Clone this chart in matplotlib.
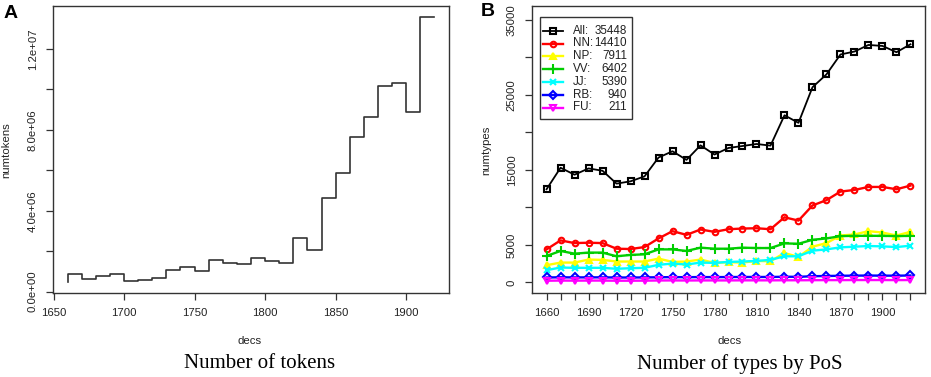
import matplotlib
matplotlib.use("Agg")
import matplotlib.pyplot as plt
from matplotlib.lines import Line2D
from matplotlib.patches import Rectangle

plt.rcParams['font.family'] = ['Liberation Sans', 'DejaVu Sans']

# decades 1660..1920
decs = [1660, 1670, 1680, 1690, 1700, 1710, 1720, 1730, 1740, 1750, 1760, 1770, 1780, 1790,
        1800, 1810, 1820, 1830, 1840, 1850, 1860, 1870, 1880, 1890, 1900, 1910, 1920]

# panel A: tokens per decade
numtokens = [0.46e6, 0.87e6, 0.61e6, 0.77e6, 0.86e6, 0.51e6, 0.59e6, 0.67e6, 1.05e6, 1.23e6,
             1.02e6, 1.56e6, 1.40e6, 1.35e6, 1.65e6, 1.51e6, 1.43e6, 2.67e6, 2.06e6, 4.64e6,
             5.89e6, 7.67e6, 8.63e6, 10.19e6, 10.34e6, 8.91e6, 13.61e6]

# panel B: types per PoS
types_all = [12420, 15290, 14360, 15200, 14890, 13170, 13480, 14140, 16650, 17490, 16340, 18280,
             17050, 17930, 18190, 18460, 18240, 22290, 21280, 26030, 27750, 30400, 30790, 31670,
             31540, 30700, 31760]
types_nn = [4400, 5600, 5240, 5290, 5240, 4490, 4450, 4710, 5860, 6830, 6340, 7050, 6740, 7090,
            7180, 7220, 7090, 8680, 8240, 10260, 10970, 12110, 12330, 12730, 12730, 12420, 12910]
types_np = [2290, 2640, 2640, 3040, 3000, 2780, 2780, 2780, 3170, 2730, 2780, 3040, 2600, 2690,
            2640, 2860, 2820, 3920, 3390, 4760, 5240, 6250, 6390, 6830, 6650, 6250, 6740]
types_vv = [3520, 4190, 3830, 3970, 3970, 3480, 3660, 3740, 4400, 4400, 4190, 4630, 4490, 4490,
            4630, 4580, 4580, 5200, 5150, 5680, 5860, 6170, 6210, 6210, 6210, 6170, 6210]
types_jj = [1630, 1980, 1940, 1940, 1940, 1810, 1890, 1940, 2340, 2510, 2380, 2640, 2600, 2730,
            2780, 2860, 3000, 3480, 3480, 4230, 4400, 4670, 4760, 4850, 4800, 4710, 4890]
types_rb = [650, 680, 660, 670, 670, 650, 650, 660, 680, 700, 690, 710, 700, 710, 720, 720, 720,
            750, 740, 820, 850, 880, 900, 910, 900, 890, 920]
types_fu = [220, 240, 230, 240, 240, 220, 220, 230, 250, 260, 250, 260, 260, 260, 270, 270, 270,
            280, 280, 290, 300, 300, 310, 310, 310, 300, 310]

pos_names = ["All:", "NN:", "NP:", "VV:", "JJ:", "RB:", "FU:"]
pos_totals = ["35448", "14410", "7911", "6402", "5390", "940", "211"]

fig = plt.figure(figsize=(9.31, 3.77), dpi=100)
W, H = 931.0, 377.0

def px_axes(x0, x1, y0, y1):
    return fig.add_axes([x0 / W, 1 - y1 / H, (x1 - x0) / W, (y1 - y0) / H])

def r_style(ax):
    for s in ax.spines.values():
        s.set_color('#333333')
        s.set_linewidth(1.0)
    ax.tick_params(direction='out', length=5, width=0.9, color='#333333',
                   labelsize=8.2, labelcolor='#222222', pad=6)

# ---- panel A
axA = px_axes(53, 449, 6, 293)
axA.plot(decs, numtokens, drawstyle='steps-pre', color='#333333', lw=1.2)
axA.set_xlim(1649.6, 1930.4)
axA.set_ylim(-0.07e6, 14.13e6)
axA.set_xticks([1650, 1700, 1750, 1800, 1850, 1900])
axA.set_yticks([0, 2e6, 4e6, 6e6, 8e6, 10e6, 12e6])
axA.set_yticklabels(["0.0e+00", "", "4.0e+06", "", "8.0e+06", "", "1.2e+07"],
                    rotation=90, va='center')
r_style(axA)
fig.text(6 / W, 1 - 150 / H, "numtokens", rotation=90, ha='center', va='center',
         fontsize=8.2, color='#222222')
fig.text(250 / W, 1 - 341 / H, "decs", ha='center', va='center', fontsize=8.2, color='#222222')
fig.text(260 / W, 1 - 364 / H, "Number of tokens", ha='center', va='center', fontsize=15,
         family=['Liberation Serif', 'DejaVu Serif'])
fig.text(4 / W, 1 - 13 / H, "A", ha='left', va='center', fontsize=14, fontweight='bold')

# ---- panel B
axB = px_axes(532, 925, 6, 293)
# values, colour, marker, size, filled
series = [
    (types_all, 'black', 's', 4.5, False),
    (types_nn, '#FF0000', 'o', 4.0, False),
    (types_np, '#FFFF00', '^', 4.5, True),
    (types_vv, '#00CD00', '+', 6.5, True),
    (types_jj, '#00FFFF', 'x', 5.0, True),
    (types_rb, '#0000FF', 'D', 4.0, False),
    (types_fu, '#FF00FF', 'v', 4.5, False),
]
for vals, col, mk, ms, filled in series:
    lw = 1.3 if col == 'black' else 1.7
    axB.plot(decs, vals, color=col, lw=lw, marker=mk, markersize=ms,
             markerfacecolor=col if filled else 'none',
             markeredgecolor=col, markeredgewidth=1.5)
axB.set_xlim(1649.6, 1930.4)
axB.set_ylim(-1418, 36866)
axB.set_xticks(decs)
axB.set_xticklabels([str(d) if (d - 1660) % 30 == 0 and d <= 1900 else "" for d in decs])
axB.set_yticks(range(0, 35001, 5000))
axB.set_yticklabels(["0", "5000", "", "15000", "", "25000", "", "35000"],
                    rotation=90, va='center')
r_style(axB)

# legend drawn by hand (R style: name left, total right-aligned)
def ax_x(px):
    return (px - 532) / 393.0

def ax_y(py):
    return (293 - py) / 287.0

axB.add_patch(Rectangle((ax_x(540), ax_y(119)), 92 / 393, 102 / 287,
                        transform=axB.transAxes, fill=False, ec='#333333', lw=1.0, zorder=5))
for i, (vals, col, mk, ms, filled) in enumerate(series):
    yy = ax_y(30.7 + 12.8 * i)
    lw = 1.3 if col == 'black' else 1.7
    axB.add_line(Line2D([ax_x(543), ax_x(563)], [yy, yy], transform=axB.transAxes,
                        color=col, lw=lw))
    axB.add_line(Line2D([ax_x(553)], [yy], transform=axB.transAxes, color=col, lw=0,
                        marker=mk, markersize=ms, markeredgewidth=1.5,
                        markerfacecolor=col if filled else 'none', markeredgecolor=col))
    axB.text(ax_x(573), yy, pos_names[i], transform=axB.transAxes, ha='left', va='center',
             fontsize=8.4, color='#222222')
    axB.text(ax_x(627), yy, pos_totals[i], transform=axB.transAxes, ha='right', va='center',
             fontsize=8.4, color='#222222')

fig.text(486 / W, 1 - 150 / H, "numtypes", rotation=90, ha='center', va='center',
         fontsize=8.2, color='#222222')
fig.text(730 / W, 1 - 341 / H, "decs", ha='center', va='center', fontsize=8.2, color='#222222')
fig.text(740 / W, 1 - 364 / H, "Number of types by PoS", ha='center', va='center', fontsize=15,
         family=['Liberation Serif', 'DejaVu Serif'])
fig.text(481 / W, 1 - 12 / H, "B", ha='left', va='center', fontsize=14, fontweight='bold')

fig.savefig("out.png", dpi=100)
